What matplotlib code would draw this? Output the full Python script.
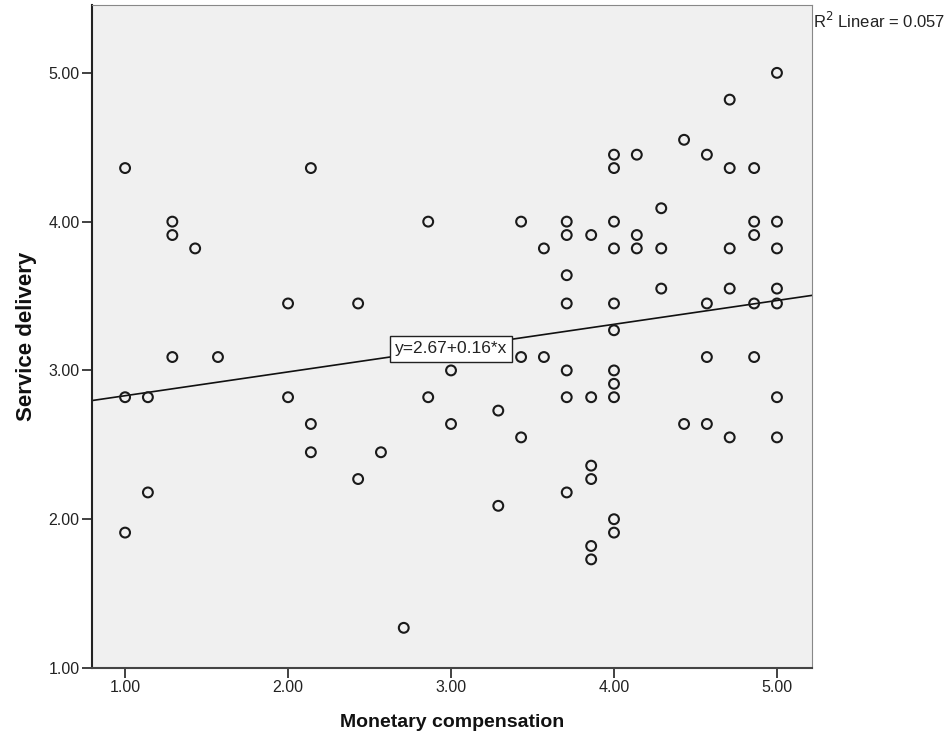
import matplotlib
matplotlib.use("Agg")
import matplotlib.pyplot as plt
import numpy as np

plt.rcParams['font.family'] = ['Liberation Sans', 'DejaVu Sans']

# Monetary compensation (x) and Service delivery (y)
monetary = [
    1.00, 1.00, 1.00,
    1.14, 1.14,
    1.29, 1.29, 1.29,
    1.43,
    1.57,
    2.00, 2.00,
    2.14, 2.14, 2.14,
    2.43, 2.43,
    2.57,
    2.71,
    2.86, 2.86,
    3.00, 3.00,
    3.29, 3.29,
    3.43, 3.43, 3.43,
    3.57, 3.57,
    3.71, 3.71, 3.71, 3.71, 3.71, 3.71, 3.71,
    3.86, 3.86, 3.86, 3.86, 3.86, 3.86,
    4.00, 4.00, 4.00, 4.00, 4.00, 4.00, 4.00, 4.00, 4.00, 4.00, 4.00,
    4.14, 4.14, 4.14,
    4.29, 4.29, 4.29,
    4.43, 4.43,
    4.57, 4.57, 4.57, 4.57,
    4.71, 4.71, 4.71, 4.71, 4.71,
    4.86, 4.86, 4.86, 4.86, 4.86,
    5.00, 5.00, 5.00, 5.00, 5.00, 5.00, 5.00,
]
service = [
    4.36, 2.82, 1.91,
    2.82, 2.18,
    4.00, 3.91, 3.09,
    3.82,
    3.09,
    3.45, 2.82,
    4.36, 2.64, 2.45,
    3.45, 2.27,
    2.45,
    1.27,
    4.00, 2.82,
    3.00, 2.64,
    2.73, 2.09,
    4.00, 3.09, 2.55,
    3.82, 3.09,
    4.00, 3.91, 3.64, 3.45, 3.00, 2.82, 2.18,
    3.91, 2.82, 2.36, 2.27, 1.82, 1.73,
    4.45, 4.36, 4.00, 3.82, 3.45, 3.27, 3.00, 2.91, 2.82, 2.00, 1.91,
    4.45, 3.91, 3.82,
    4.09, 3.82, 3.55,
    4.55, 2.64,
    4.45, 3.45, 3.09, 2.64,
    4.82, 4.36, 3.82, 3.55, 2.55,
    4.36, 4.00, 3.91, 3.45, 3.09,
    5.00, 4.00, 3.82, 3.55, 3.45, 2.82, 2.55,
]
intercept = 2.67
slope = 0.16
r2 = 0.057
xticks = [1.0, 2.0, 3.0, 4.0, 5.0]
yticks = [1.0, 2.0, 3.0, 4.0, 5.0]

fig = plt.figure(figsize=(9.44, 7.42), dpi=100)
ax = fig.add_axes([92/944, 1 - 668/742, (812 - 92)/944, (668 - 5)/742])
ax.set_facecolor('#F0F0F0')

xmin, xmax = 0.797, 5.215
ymin, ymax = 1.0, 5.456
ax.set_xlim(xmin, xmax)
ax.set_ylim(ymin, ymax)

ax.scatter(monetary, service, s=50, facecolors='none', edgecolors='#1a1a1a',
           linewidths=1.5, zorder=3)

xs = np.array([xmin, xmax])
ax.plot(xs, intercept + slope * xs, color='#111111', lw=1.2, zorder=2)

ax.text(3.0, 3.145, f'y={intercept:.2f}+{slope:.2f}*x',
        ha='center', va='center', fontsize=12.5, color='#222222', zorder=4,
        bbox=dict(boxstyle='square,pad=0.3', facecolor='white', edgecolor='#222222', lw=1.0))

fig.text(813/944, 1 - 21/742, r'R$^2$ Linear = ' + f'{r2:.3f}', ha='left', va='center',
         fontsize=12, color='#222222')

ax.set_xticks(xticks)
ax.set_yticks(yticks)
ax.set_xticklabels([f'{t:.2f}' for t in xticks], fontsize=11.5, color='#222222')
ax.set_yticklabels([f'{t:.2f}' for t in yticks], fontsize=11.5, color='#222222')
ax.tick_params(direction='out', length=7, width=1.3, color='#333333', pad=2)

ax.spines['left'].set_color('#222222')
ax.spines['left'].set_linewidth(1.5)
ax.spines['bottom'].set_color('#444444')
ax.spines['bottom'].set_linewidth(1.5)
ax.spines['top'].set_color('#888888')
ax.spines['top'].set_linewidth(0.8)
ax.spines['right'].set_color('#888888')
ax.spines['right'].set_linewidth(0.8)

ax.set_xlabel('Monetary compensation', fontsize=14, fontweight='bold', color='#111111', labelpad=13)
ax.set_ylabel('Service delivery', fontsize=16, fontweight='bold', color='#111111', labelpad=8)

fig.savefig('out.png', dpi=100, facecolor='white')
